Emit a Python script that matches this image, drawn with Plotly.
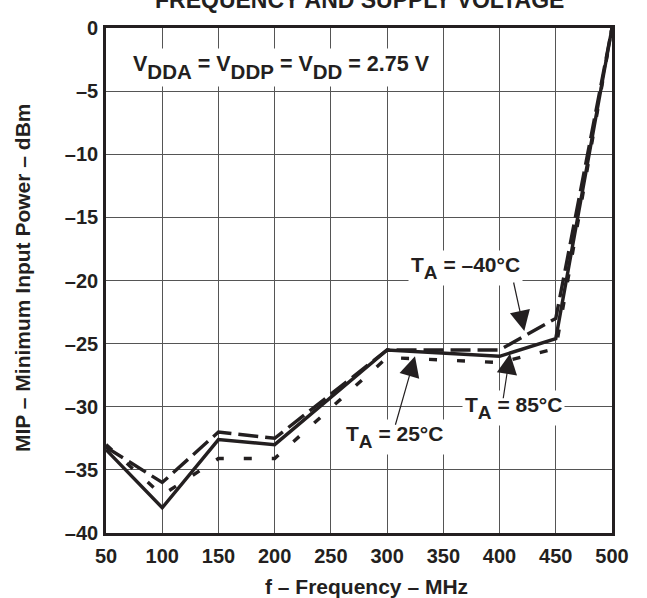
import plotly.graph_objects as go

# ---- data ----
freq_mhz = [50, 100, 150, 200, 300, 400, 450, 500]
mip_solid = [-33.4, -38.0, -32.6, -33.0, -25.5, -26.0, -24.6, 0.0]    # T_A = 25 °C
mip_dashed = [-33.2, -36.0, -32.0, -32.5, -25.5, -25.5, -23.0, 0.0]   # T_A = -40 °C
mip_dotted = [-33.0, -37.0, -34.1, -34.1, -26.1, -26.5, -25.4, 0.0]   # T_A = 85 °C

x_ticks = [50, 100, 150, 200, 250, 300, 350, 400, 450, 500]
y_ticks = [0, -5, -10, -15, -20, -25, -30, -35, -40]

FONT = "Liberation Sans, Arial, Helvetica, sans-serif"
INK = "#231f20"

fig = go.Figure()
fig.add_trace(go.Scatter(x=freq_mhz, y=mip_dotted, mode="lines",
                         line=dict(color=INK, width=3.4, dash="8px,20px"),
                         name="TA = 85°C", showlegend=False))
fig.add_trace(go.Scatter(x=freq_mhz, y=mip_dashed, mode="lines",
                         line=dict(color=INK, width=3.4, dash="20px,7px"),
                         name="TA = -40°C", showlegend=False))
fig.add_trace(go.Scatter(x=freq_mhz, y=mip_solid, mode="lines",
                         line=dict(color=INK, width=3.4),
                         name="TA = 25°C", showlegend=False))

def sub(t, size=20.5, shift=-8):
    return f'<span style="font-size:{size}px;baseline-shift:{shift}px">{t}</span>'

annots = []
# top (clipped) title
annots.append(dict(text="FREQUENCY AND SUPPLY VOLTAGE", xref="paper", yref="paper",
                   x=0.5, y=1.056, xanchor="center", yanchor="middle", showarrow=False,
                   font=dict(family=FONT, size=23, color=INK, weight="bold")))
# axis titles
annots.append(dict(text="f – Frequency – MHz", xref="paper", yref="paper",
                   x=(366 - 106) / 506, y=-(586 - 533) / 505, xanchor="center", yanchor="middle",
                   showarrow=False, font=dict(family=FONT, size=21, color=INK, weight="bold")))
annots.append(dict(text="MIP – Minimum Input Power – dBm", xref="paper", yref="paper",
                   x=-(106 - 22) / 506, y=1 - (278 - 28) / 505, xanchor="center", yanchor="middle",
                   textangle=-90, showarrow=False,
                   font=dict(family=FONT, size=21, color=INK, weight="bold")))
# condition label
annots.append(dict(text="V" + sub("DDA") + " = V" + sub("DDP") + " = V" + sub("DD") + " = 2.75 V",
                   x=206.5, y=-3.1, xanchor="center", yanchor="middle", showarrow=False,
                   bgcolor="white", borderpad=3,
                   font=dict(family=FONT, size=21.5, color=INK, weight="bold")))
# temperature labels
for txt, xx, yy in [("–40°C", 370, -19.0), ("85°C", 412, -30.1), ("25°C", 307, -32.4)]:
    annots.append(dict(text="T" + sub("A", 19, -7) + " = " + txt, x=xx, y=yy,
                       xanchor="center", yanchor="middle", showarrow=False,
                       bgcolor="white", borderpad=2,
                       font=dict(family=FONT, size=21, color=INK, weight="bold")))
# arrows
for xx, yy, axp, ayp in [(422.0, -24.0, -11, -50), (409.3, -25.8, -7, 46), (324.8, -26.0, -20, 70)]:
    annots.append(dict(text="", x=xx, y=yy, ax=axp, ay=ayp, showarrow=True,
                       arrowhead=2, arrowsize=3.4, arrowwidth=1.2, arrowcolor=INK,
                       standoff=0, startstandoff=0))

fig.update_layout(
    width=647, height=598,
    margin=dict(l=106, r=35, t=28, b=65),
    paper_bgcolor="white", plot_bgcolor="white",
    font=dict(family=FONT, color=INK),
    annotations=annots,
    xaxis=dict(range=[50, 500], tickvals=x_ticks, ticktext=[str(v) for v in x_ticks],
               showgrid=True, gridcolor="#555555", gridwidth=1.2,
               showline=True, linecolor=INK, linewidth=2.6, mirror=True,
               ticks="", ticklabelstandoff=3, zeroline=False,
               tickfont=dict(family=FONT, size=20, color=INK, weight="bold")),
    yaxis=dict(range=[-40, 0], tickvals=y_ticks, ticktext=[("–" + str(-v)) if v < 0 else "0" for v in y_ticks],
               showgrid=True, gridcolor="#555555", gridwidth=1.2,
               showline=True, linecolor=INK, linewidth=2.6, mirror=True,
               ticks="", ticklabelstandoff=1, zeroline=False,
               tickfont=dict(family=FONT, size=20, color=INK, weight="bold")),
)

fig.write_html("out.html", config={"displayModeBar": False},
               post_script="document.body.style.margin='0';document.body.style.overflow='hidden';")
